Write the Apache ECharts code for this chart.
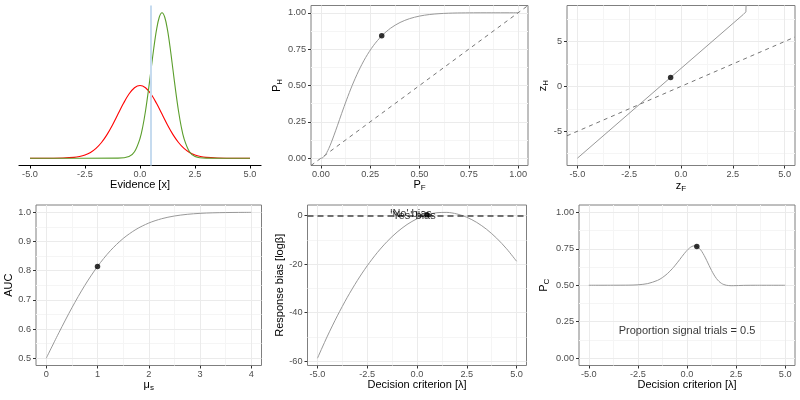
<!DOCTYPE html>
<html>
<head>
<meta charset="utf-8">
<script src="https://cdn.jsdelivr.net/npm/echarts@6/dist/echarts.min.js"></script>
<style>
  html, body { margin: 0; padding: 0; background: #fff; }
  #chart { width: 800px; height: 400px; }
</style>
</head>
<body>
<div id="chart"></div>
<script>
// ---- data ----
// panel 1: evidence distributions
const noiseX = [-5, -4.5, -4, -3.5, -3, -2.75, -2.5, -2.25, -2, -1.75, -1.5, -1.25, -1, -0.75, -0.5, -0.25, 0,
  0.25, 0.5, 0.75, 1, 1.25, 1.5, 1.75, 2, 2.25, 2.5, 2.75, 3, 3.5, 4, 4.5, 5];
const noiseY = [0, 0, 0.0001, 0.0009, 0.0044, 0.0091, 0.0175, 0.0317, 0.054, 0.0863, 0.1295, 0.1826, 0.242, 0.3011,
  0.3521, 0.3867, 0.3989, 0.3867, 0.3521, 0.3011, 0.242, 0.1826, 0.1295, 0.0863, 0.054, 0.0317, 0.0175, 0.0091,
  0.0044, 0.0009, 0.0001, 0, 0];
const signalX = [-5, -1, -0.5, -0.25, 0, 0.125, 0.25, 0.375, 0.5, 0.625, 0.75, 0.875, 1, 1.125, 1.25, 1.375, 1.5,
  1.625, 1.75, 1.875, 2, 2.25, 2.5, 3, 5];
const signalY = [0, 0.0003, 0.0089, 0.0351, 0.108, 0.1726, 0.2591, 0.3653, 0.4839, 0.6023, 0.7041, 0.7733, 0.7979,
  0.7733, 0.7041, 0.6023, 0.4839, 0.3653, 0.2591, 0.1726, 0.108, 0.0351, 0.0089, 0.0003, 0];
const criterion = 0.5;

// panel 2: ROC
const rocF = [0, 0.0013, 0.0062, 0.0122, 0.0228, 0.0304, 0.0401, 0.0521, 0.0668, 0.0846, 0.1056, 0.1303, 0.1587,
  0.1908, 0.2266, 0.266, 0.3085, 0.3538, 0.4013, 0.4503, 0.5, 0.5497, 0.5987, 0.6462, 0.6915, 0.7734, 0.8413,
  0.9332, 0.9772, 0.9987, 1];
const rocH = [0, 0, 0.0013, 0.0062, 0.0228, 0.0401, 0.0668, 0.1056, 0.1587, 0.2266, 0.3085, 0.4013, 0.5, 0.5987,
  0.6915, 0.7734, 0.8413, 0.8944, 0.9332, 0.9599, 0.9772, 0.9878, 0.9938, 0.997, 0.9987, 0.9998, 1, 1, 1, 1, 1];
const rocPoint = [0.3085, 0.8413];

// panel 3: zROC
const zF = [-5, 3.0, 3.08, 3.13, 3.18];
const zH = [-8, 8.0, 8.15, 8.3, 12];
const zPoint = [-0.5, 1.0];

// panel 4: AUC
const muS = [0, 0.25, 0.5, 0.75, 1, 1.25, 1.5, 1.75, 2, 2.25, 2.5, 2.75, 3, 3.25, 3.5, 3.75, 4];
const auc = [0.5, 0.5885, 0.6726, 0.7488, 0.8144, 0.8682, 0.9101, 0.9412, 0.9632, 0.9779, 0.9873, 0.993, 0.9964,
  0.9982, 0.9991, 0.9996, 0.9998];
const aucPoint = [1, 0.8144];

// panel 5: response bias
const lambda = [-5, -4.5, -4, -3.5, -3, -2.5, -2, -1.5, -1, -0.5, 0, 0.5, 1, 1.5, 2, 2.5, 3, 3.5, 4, 4.5, 5];
const logBeta = [-58.81, -49.68, -41.31, -33.68, -26.81, -20.68, -15.31, -10.68, -6.81, -3.68, -1.31, 0.32, 1.19,
  1.32, 0.69, -0.68, -2.81, -5.68, -9.31, -13.68, -18.81];
const biasPoint = [0.5, 0.32];
const biasLabels = ["'No' bias", "'Yes' bias"];
const biasLabelX = [-0.3, -0.2];
const biasLabelY = [0.7, -0.3];

// panel 6: proportion correct
const pcCrit = [-5, -3, -2.5, -2, -1.5, -1.25, -1, -0.75, -0.625, -0.5, -0.375, -0.25, -0.125, 0, 0.125, 0.25,
  0.375, 0.5, 0.625, 0.75, 0.875, 1, 1.125, 1.25, 1.375, 1.5, 1.625, 1.75, 1.875, 2, 2.25, 2.5, 2.75, 3, 3.5, 5];
const pc = [0.5, 0.5007, 0.5031, 0.5114, 0.5334, 0.5528, 0.5794, 0.6132, 0.6328, 0.6536, 0.6754, 0.6976, 0.7191,
  0.7386, 0.7548, 0.766, 0.7703, 0.7664, 0.7537, 0.7325, 0.704, 0.6707, 0.6355, 0.6015, 0.571, 0.546, 0.5268,
  0.5134, 0.5049, 0.5, 0.497, 0.4976, 0.4986, 0.4994, 0.4999, 0.5];
const pcPoint = [0.5, 0.7664];
const pcNote = 'Proportion signal trials = 0.5';

// tick values
const ticksFive = [-5, -2.5, 0, 2.5, 5];
const minorFive = [-3.75, -1.25, 1.25, 3.75];
const ticksProb = [0, 0.25, 0.5, 0.75, 1];
const minorProb = [0.125, 0.375, 0.625, 0.875];

// ---- styling ----
const FONT = '"Liberation Sans", Arial, sans-serif';
const TICK_TEXT = '#4d4d4d';
const BORDER = '#7f7f7f';
const MAJOR = '#ebebeb';
const MINOR = '#f5f5f5';
const CURVE = '#999999';

const rich = {
  m: { fontSize: 11, color: '#000', fontFamily: FONT, padding: [0, 0, 3, 0] },
  s: { fontSize: 8, color: '#000', fontFamily: FONT, padding: [3, 0, 0, 0] }
};

const panels = [
  { box: [19, 5.5, 242, 160], x: [-5.5, 5.5], y: [-0.04, 0.838], xTicks: ticksFive, xMinor: [], yTicks: null, yMinor: [],
    xDec: 1, yDec: 0, classic: true, xName: 'Evidence [x]', xGap: 14 },
  { box: [311, 5.5, 217, 160], x: [-0.05, 1.05], y: [-0.05, 1.05], xTicks: ticksProb, xMinor: minorProb,
    yTicks: ticksProb, yMinor: minorProb, xDec: 2, yDec: 2, xName: '{m|P}{s|F}', xGap: 13, yName: '{m|P}{s|H}', yGap: 26 },
  { box: [567, 5.5, 228, 160], x: [-5.5, 5.5], y: [-8.81, 9.01], xTicks: ticksFive, xMinor: minorFive,
    yTicks: [-5, 0, 5], yMinor: [-7.5, -2.5, 2.5, 7.5], xDec: 1, yDec: 0, xName: '{m|z}{s|F}', xGap: 15,
    yName: '{m|z}{s|H}', yGap: 15 },
  { box: [36, 205, 225.5, 160.5], x: [-0.2, 4.2], y: [0.475, 1.025], xTicks: [0, 1, 2, 3, 4], xMinor: [0.5, 1.5, 2.5, 3.5],
    yTicks: [0.5, 0.6, 0.7, 0.8, 0.9, 1], yMinor: [0.55, 0.65, 0.75, 0.85, 0.95], xDec: 0, yDec: 1,
    xName: '{m|μ}{s|s}', xGap: 14, yName: 'AUC', yGap: 19 },
  { box: [307.5, 205, 219, 160.5], x: [-5.5, 5.5], y: [-61.8, 4.37], xTicks: ticksFive, xMinor: minorFive,
    yTicks: [-60, -40, -20, 0], yMinor: [-50, -30, -10], xDec: 1, yDec: 0, xName: 'Decision criterion [λ]', xGap: 14,
    yName: 'Response bias [logβ]', yGap: 21 },
  { box: [579, 205, 216, 160.5], x: [-5.5, 5.5], y: [-0.05, 1.05], xTicks: ticksFive, xMinor: minorFive,
    yTicks: ticksProb, yMinor: minorProb, xDec: 1, yDec: 2, xName: 'Decision criterion [λ]', xGap: 14,
    yName: '{m|P}{s|C}', yGap: 27 }
];

function mainAxis(dim, p, i) {
  const ticks = dim === 'x' ? p.xTicks : p.yTicks;
  const dec = dim === 'x' ? p.xDec : p.yDec;
  const name = dim === 'x' ? p.xName : p.yName;
  const gap = dim === 'x' ? p.xGap : p.yGap;
  return {
    type: 'value',
    gridIndex: i,
    min: p[dim][0],
    max: p[dim][1],
    position: dim === 'x' ? 'bottom' : 'left',
    show: !!ticks,
    z: 2,
    name: name || '',
    nameLocation: 'middle',
    nameGap: gap,
    nameTextStyle: { fontSize: 11, color: '#000', fontFamily: FONT, rich: rich },
    axisLine: { show: !!p.classic, onZero: false, lineStyle: { color: '#000', width: 1.2 } },
    axisTick: { show: true, length: 3, customValues: ticks || [], lineStyle: { color: p.classic ? '#000' : '#333' } },
    axisLabel: {
      show: true,
      customValues: ticks || [],
      margin: dim === 'x' ? 4 : 5,
      fontSize: 9.2,
      color: TICK_TEXT,
      fontFamily: FONT,
      formatter: v => v.toFixed(dec)
    },
    splitLine: { show: !p.classic, lineStyle: { color: MAJOR, width: 1 } }
  };
}

function minorAxis(dim, p, i) {
  const minors = dim === 'x' ? p.xMinor : p.yMinor;
  return {
    type: 'value',
    gridIndex: i,
    min: p[dim][0],
    max: p[dim][1],
    position: dim === 'x' ? 'bottom' : 'left',
    show: minors.length > 0,
    z: 1,
    axisLine: { show: false, onZero: false },
    axisTick: { show: false, customValues: minors },
    axisLabel: { show: false, customValues: minors },
    splitLine: { show: true, lineStyle: { color: MINOR, width: 1 } }
  };
}

const zip = (xs, ys) => xs.map((x, k) => [x, ys[k]]);

function on(i, s) {
  return Object.assign({ xAxisIndex: 2 * i, yAxisIndex: 2 * i, silent: true, animation: false }, s);
}
function curve(i, data, color, smooth, width) {
  return on(i, { type: 'line', data: data, symbol: 'none', smooth: smooth, z: 3,
    lineStyle: { color: color, width: width || 1 } });
}
function dot(i, xy) {
  return on(i, { type: 'scatter', data: [xy], symbolSize: 5.5, itemStyle: { color: '#000' }, z: 6 });
}
function diagonal(i) {
  const r = panels[i].x;
  return on(i, { type: 'line', data: [[r[0], r[0]], [r[1], r[1]]], symbol: 'none', z: 2,
    lineStyle: { color: '#666', width: 0.9, type: [4, 4] } });
}
function note(i, items) {
  return on(i, { type: 'scatter', symbolSize: 0.1, itemStyle: { color: 'transparent' }, z: 7, data: items,
    label: { show: true, position: 'inside', formatter: '{b}', fontSize: 11, color: '#000', fontFamily: FONT } });
}

const option = {
  animation: false,
  backgroundColor: '#fff',
  textStyle: { fontFamily: FONT },
  grid: [],
  xAxis: [],
  yAxis: [],
  series: []
};

panels.forEach((p, i) => {
  option.grid.push({
    left: p.box[0], top: p.box[1], width: p.box[2], height: p.box[3],
    show: !p.classic, borderColor: BORDER, borderWidth: 1, backgroundColor: 'transparent',
    containLabel: false, outerBoundsMode: 'none'
  });
  option.xAxis.push(mainAxis('x', p, i), minorAxis('x', p, i));
  option.yAxis.push(mainAxis('y', p, i), minorAxis('y', p, i));
});

// panel 1
option.series.push(on(0, {
  type: 'line', data: [], markLine: {
    silent: true, symbol: ['none', 'none'], label: { show: false },
    lineStyle: { color: '#c6dbef', width: 2, type: 'solid' }, data: [{ xAxis: criterion }]
  }
}));
option.series.push(curve(0, zip(noiseX, noiseY), '#ff0000', 0.35, 1.1));
option.series.push(curve(0, zip(signalX, signalY), '#5b9e2c', 0.35, 1.1));

// panel 2
option.series.push(diagonal(1));
option.series.push(curve(1, zip(rocF, rocH), CURVE, 0.3));
option.series.push(dot(1, rocPoint));

// panel 3
option.series.push(diagonal(2));
option.series.push(curve(2, zip(zF, zH), CURVE, false));
option.series.push(dot(2, zPoint));

// panel 4
option.series.push(curve(3, zip(muS, auc), CURVE, 0.3));
option.series.push(dot(3, aucPoint));

// panel 5
option.series.push(on(4, {
  type: 'line', data: zip(lambda, logBeta), symbol: 'none', smooth: 0.3, z: 3,
  lineStyle: { color: CURVE, width: 1 },
  markLine: {
    silent: true, symbol: ['none', 'none'], label: { show: false },
    lineStyle: { color: '#444', width: 1.6, type: [6, 4] }, data: [{ yAxis: 0 }]
  }
}));
option.series.push(dot(4, biasPoint));
option.series.push(note(4, biasLabels.map((t, k) => ({ name: t, value: [biasLabelX[k], biasLabelY[k]] }))));

// panel 6
option.series.push(curve(5, zip(pcCrit, pc), CURVE, 0.3));
option.series.push(dot(5, pcPoint));
option.series.push(note(5, [{ name: pcNote, value: [0, 0.19] }]));

const chart = echarts.init(document.getElementById('chart'));
chart.setOption(option);
</script>
</body>
</html>
